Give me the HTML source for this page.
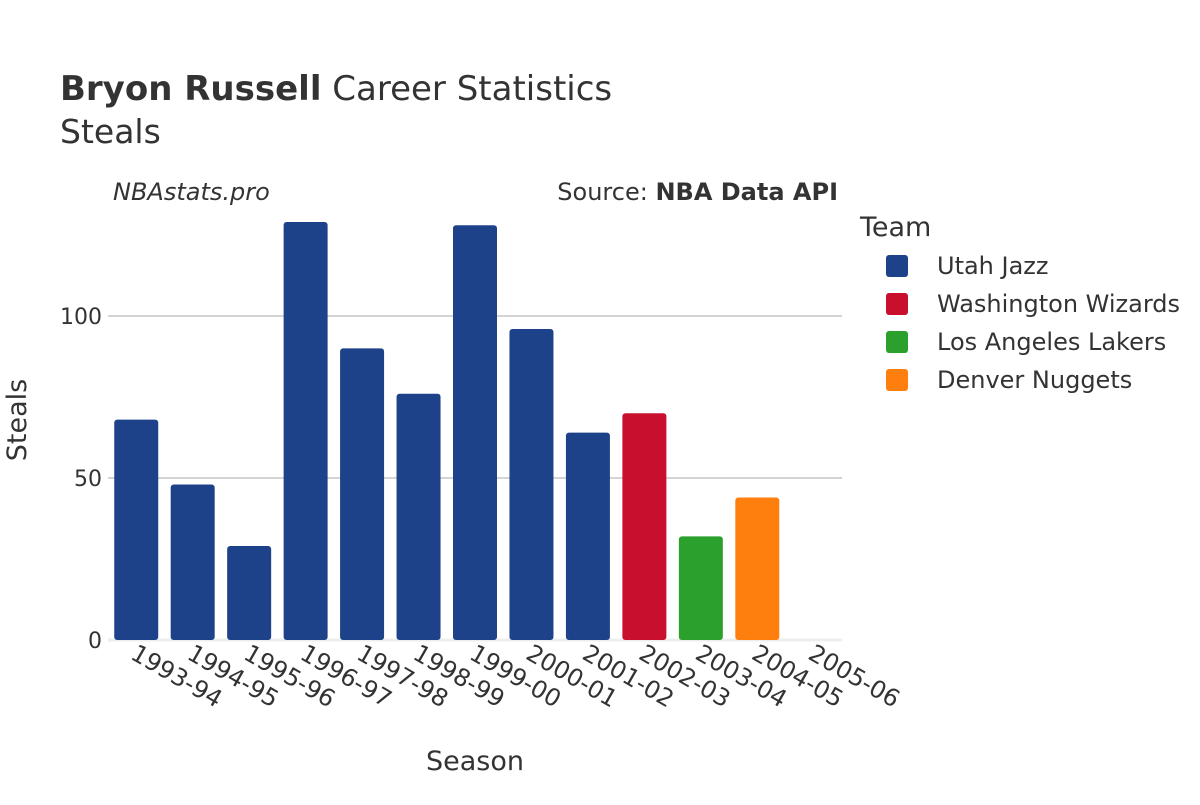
<!DOCTYPE html>
<html><head><meta charset="utf-8"><style>
body{margin:0;background:#fff;font-family:"Liberation Sans","DejaVu Sans",sans-serif;}
svg text{font-family:"DejaVu Sans","Liberation Sans",sans-serif;fill:#333;}
</style></head><body>
<svg id="chart" width="1200" height="800" xmlns="http://www.w3.org/2000/svg">
<text x="60" y="100" font-size="34"><tspan font-weight="bold">Bryon Russell</tspan> Career Statistics</text>
<text x="60" y="143" font-size="33">Steals</text>
<text x="113" y="200" font-size="24" font-style="italic">NBAstats.pro</text>
<text x="838" y="200" font-size="24" text-anchor="end">Source: <tspan font-weight="bold">NBA Data API</tspan></text>
<g id="grid"></g>
<g id="bars"></g>
<g id="xt"></g>
<g id="yt"></g>
<text x="475" y="770" font-size="27" text-anchor="middle">Season</text>
<text transform="translate(26,420) rotate(-90)" font-size="27" text-anchor="middle">Steals</text>
<g id="legend">
<text x="860" y="236" font-size="27">Team</text>
</g>
</svg>
<script>
const seasons=["1993-94","1994-95","1995-96","1996-97","1997-98","1998-99","1999-00","2000-01","2001-02","2002-03","2003-04","2004-05","2005-06"];
const steals=[68,48,29,129,90,76,128,96,64,70,32,44,0];
const teams=["Utah Jazz","Utah Jazz","Utah Jazz","Utah Jazz","Utah Jazz","Utah Jazz","Utah Jazz","Utah Jazz","Utah Jazz","Washington Wizards","Los Angeles Lakers","Denver Nuggets","Denver Nuggets"];
const legendTeams=["Utah Jazz","Washington Wizards","Los Angeles Lakers","Denver Nuggets"];
const yTicks=[0,50,100];
const colors={"Utah Jazz":"#1d428a","Washington Wizards":"#c8102e","Los Angeles Lakers":"#2ca02c","Denver Nuggets":"#ff7f0e"};
const NS="http://www.w3.org/2000/svg";
const x0=108,x1=842,y0=640,pxPer=3.24;
const band=(x1-x0)/seasons.length;
const xs=i=>x0+band*(i+0.5);
const ys=v=>y0-v*pxPer;
function mk(t,a){const e=document.createElementNS(NS,t);for(const k in a)e.setAttribute(k,a[k]);return e;}
const grid=document.getElementById('grid'),yt=document.getElementById('yt');
yTicks.forEach(v=>{
 const l=mk('line',{x1:x0,x2:x1,y1:ys(v),y2:ys(v),stroke:v===0?'#eee':'#bbb','stroke-width':v===0?3:1.3});
 
 
 grid.appendChild(l);
 const t=mk('text',{x:x0-6,y:ys(v)+8,'font-size':22,'text-anchor':'end'});t.textContent=v;
 
 
 yt.appendChild(t);
});
const bars=document.getElementById('bars'),xt=document.getElementById('xt');
seasons.forEach((s,i)=>{
 const h=steals[i]*pxPer;
 const r=mk('rect',{x:xs(i)-22,y:ys(steals[i]),width:44,height:h,rx:3,fill:colors[teams[i]]});
 
 
 bars.appendChild(r);
 const t=mk('text',{transform:`translate(${xs(i)-7},${y0+18}) rotate(30)`,'font-size':24});t.textContent=s;
 
 
 xt.appendChild(t);
});
const lg=document.getElementById('legend');
legendTeams.forEach((tm,i)=>{
 const y=266+i*38;
 const g=mk('g',{});
 
 
 g.appendChild(mk('rect',{x:886,y:y-11,width:22,height:22,rx:3,fill:colors[tm]}));
 const t=mk('text',{x:937,y:y+8,'font-size':24});t.textContent=tm;g.appendChild(t);
 lg.appendChild(g);
});
</script>
</body></html>
